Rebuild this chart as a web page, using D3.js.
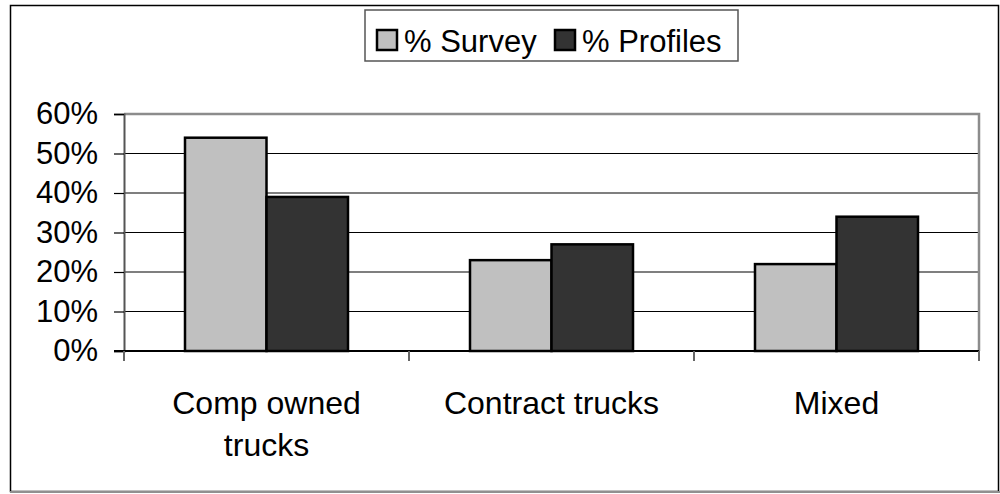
<!DOCTYPE html>
<html>
<head>
<meta charset="utf-8">
<script src="https://cdn.jsdelivr.net/npm/d3@7"></script>
<style>
  body { margin: 0; background: #fff; }
  text { font-family: "Liberation Sans", Arial, sans-serif; fill: #000; }
</style>
</head>
<body>
<div id="chart"></div>
<script>
const categories = ['Comp owned trucks', 'Contract trucks', 'Mixed'];
const series = ['% Survey', '% Profiles'];
const survey = [0.54, 0.23, 0.22];
const profiles = [0.39, 0.27, 0.34];
const yTicks = [0, 0.1, 0.2, 0.3, 0.4, 0.5, 0.6];
const colors = ['#c0c0c0', '#333333'];

const width = 1000;
const height = 494;
const plot = { left: 124, right: 979, top: 114, bottom: 351 };
const fontSize = 31;

const svg = d3.select('#chart')
    .append('svg')
    .attr('width', width)
    .attr('height', height);

// Outer chart border
svg.append('rect')
    .attr('x', 10.5).attr('y', 5.5)
    .attr('width', 988).attr('height', 486)
    .attr('fill', 'none').attr('stroke', '#000').attr('stroke-width', 1.5);
svg.append('line')
    .attr('x1', 10).attr('x2', 1000).attr('y1', 492).attr('y2', 492)
    .attr('stroke', '#909090').attr('stroke-width', 2);

const x0 = d3.scaleBand()
    .domain(categories)
    .range([plot.left, plot.right]);

const x1 = d3.scaleBand()
    .domain(series)
    .range([61, x0.bandwidth() - 61]);

const y = d3.scaleLinear()
    .domain([0, 0.6])
    .range([plot.bottom, plot.top]);

// Gridlines
svg.append('g')
    .selectAll('line')
    .data(yTicks.filter(d => d > 0 && d < 0.6))
    .join('line')
    .attr('x1', plot.left).attr('x2', plot.right)
    .attr('y1', d => y(d)).attr('y2', d => y(d))
    .attr('stroke', '#000').attr('stroke-width', 1.2);

// Plot area top / right border (gray)
svg.append('path')
    .attr('d', `M${plot.left},${plot.top}H${plot.right}V${plot.bottom}`)
    .attr('fill', 'none').attr('stroke', '#8c8c8c').attr('stroke-width', 2.5);

// Bars
const data = categories.map((c, i) => ({ cat: c, values: [survey[i], profiles[i]] }));
svg.append('g')
    .selectAll('g')
    .data(data)
    .join('g')
    .attr('transform', d => `translate(${x0(d.cat)},0)`)
    .selectAll('rect')
    .data(d => d.values.map((v, j) => ({ s: series[j], v: v, j: j })))
    .join('rect')
    .attr('x', d => x1(d.s))
    .attr('y', d => y(d.v))
    .attr('width', x1.bandwidth())
    .attr('height', d => y(0) - y(d.v))
    .attr('fill', d => colors[d.j])
    .attr('stroke', '#000')
    .attr('stroke-width', 2.5);

// Y axis
const yAxis = svg.append('g')
    .attr('transform', `translate(${plot.left},0)`)
    .call(d3.axisLeft(y)
        .tickValues(yTicks)
        .tickSize(10)
        .tickPadding(16)
        .tickFormat(d3.format('.0%')));
yAxis.select('.domain').attr('stroke', '#555').attr('stroke-width', 2);
yAxis.selectAll('.tick line').attr('stroke', '#000').attr('stroke-width', 1.2);
yAxis.selectAll('.tick text')
    .style('font-size', fontSize + 'px')
    .style('font-family', '"Liberation Sans", Arial, sans-serif')
    .attr('fill', '#000');

// X axis
const xAxis = svg.append('g')
    .attr('transform', `translate(0,${plot.bottom})`);
xAxis.append('line')
    .attr('x1', plot.left - 10).attr('x2', plot.right)
    .attr('stroke', '#000').attr('stroke-width', 2);
xAxis.selectAll('.xtick')
    .data(categories.map(c => x0(c)).concat([plot.right]))
    .join('line')
    .attr('class', 'xtick')
    .attr('x1', d => d).attr('x2', d => d)
    .attr('y1', 0).attr('y2', 10)
    .attr('stroke', '#666').attr('stroke-width', 2);

const labelLines = { 'Comp owned trucks': ['Comp owned', 'trucks'] };
xAxis.selectAll('.xlabel')
    .data(categories)
    .join('text')
    .attr('class', 'xlabel')
    .attr('text-anchor', 'middle')
    .style('font-size', '32px')
    .attr('transform', d => `translate(${x0(d) + x0.bandwidth() / 2},0)`)
    .each(function(d) {
        const lines = labelLines[d] || [d];
        d3.select(this).selectAll('tspan')
            .data(lines)
            .join('tspan')
            .attr('x', 0)
            .attr('y', (l, i) => 63 + i * 42)
            .text(l => l);
    });

// Legend
const legend = svg.append('g');
legend.append('rect')
    .attr('x', 365).attr('y', 10)
    .attr('width', 373).attr('height', 51)
    .attr('fill', '#fff').attr('stroke', '#555').attr('stroke-width', 1.5);
const legendX = [377, 555];
const item = legend.selectAll('.item')
    .data(series)
    .join('g')
    .attr('class', 'item')
    .attr('transform', (d, i) => `translate(${legendX[i]},0)`);
item.append('rect')
    .attr('x', 0).attr('y', 30)
    .attr('width', 20).attr('height', 20)
    .attr('fill', (d, i) => colors[i])
    .attr('stroke', '#000').attr('stroke-width', 2.5);
item.append('text')
    .attr('x', 27).attr('y', 52)
    .style('font-size', fontSize + 'px')
    .text(d => d);
</script>
</body>
</html>
